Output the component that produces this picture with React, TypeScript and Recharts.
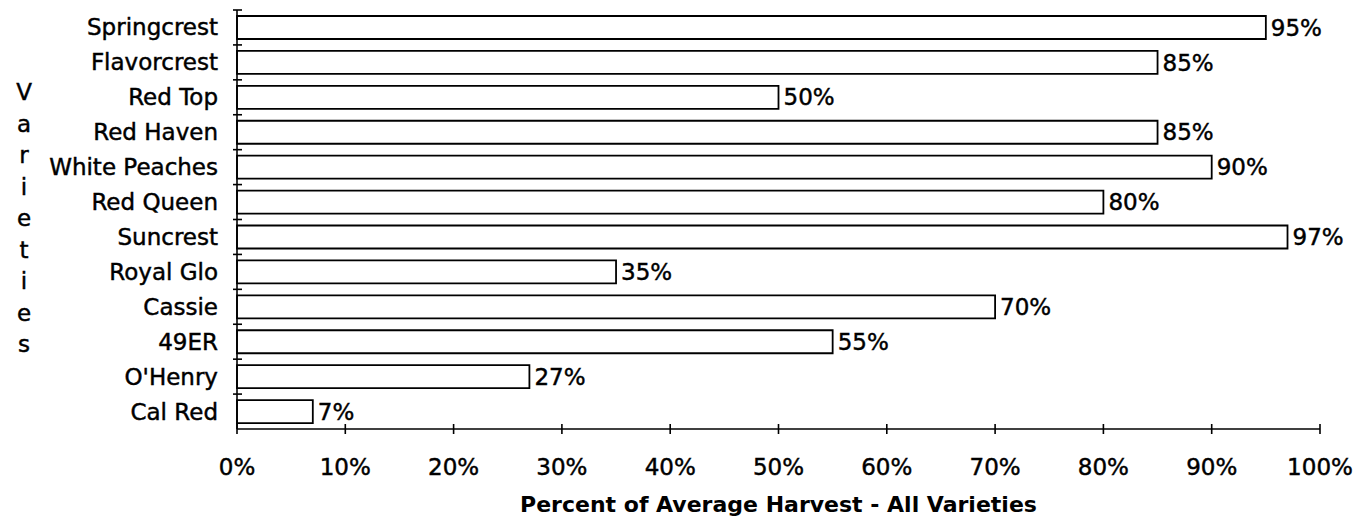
import React from "react";
import { BarChart, Bar, XAxis, YAxis, LabelList } from "recharts";

const varieties = [
  "Springcrest",
  "Flavorcrest",
  "Red Top",
  "Red Haven",
  "White Peaches",
  "Red Queen",
  "Suncrest",
  "Royal Glo",
  "Cassie",
  "49ER",
  "O'Henry",
  "Cal Red",
];
const percents = [95, 85, 50, 85, 90, 80, 97, 35, 70, 55, 27, 7];
const xTicks = [0, 10, 20, 30, 40, 50, 60, 70, 80, 90, 100];
const xTitle = "Percent of Average Harvest - All Varieties";
const yTitle = "Varieties";

const data = varieties.map((name, i) => ({ name, value: percents[i] }));

const W = 1367;
const H = 524;
const TOP = 10;
const BOTTOM = 95;
const LEFT = 237;
const RIGHT = 47;
const BAND = (H - TOP - BOTTOM) / varieties.length;
const FONT = "'DejaVu Sans', sans-serif";
const TXT_STROKE = 0.45;

const YTick = (props: any) => {
  const { x, y, payload } = props;
  return (
    <g>
      <line x1={x - 4} x2={x + 5} y1={y - BAND / 2} y2={y - BAND / 2} stroke="#000" strokeWidth={1.6} />
      <text
        x={218}
        y={y + 8}
        textAnchor="end"
        fontFamily={FONT}
        fontSize={23}
        fill="#000"
        stroke="#000"
        strokeWidth={TXT_STROKE}
      >
        {payload.value}
      </text>
    </g>
  );
};

const XTick = (props: any) => {
  const { x, y, payload } = props;
  return (
    <g>
      <line x1={x} x2={x} y1={y - 5} y2={y + 5} stroke="#000" strokeWidth={1.6} />
      <text
        x={x}
        y={y + 46}
        textAnchor="middle"
        fontFamily={FONT}
        fontSize={23}
        fill="#000"
        stroke="#000"
        strokeWidth={TXT_STROKE}
      >
        {payload.value + "%"}
      </text>
    </g>
  );
};

const XTitle = (props: any) => {
  const vb = props.viewBox || {};
  return (
    <text
      x={vb.x + vb.width / 2}
      y={vb.y + 83}
      textAnchor="middle"
      fontFamily={FONT}
      fontWeight="bold"
      fontSize={22}
      fill="#000"
    >
      {xTitle}
    </text>
  );
};

const YTitle = () => {
  const letters = yTitle.split("");
  return (
    <text
      x={24}
      y={100}
      textAnchor="middle"
      fontFamily={FONT}
      fontSize={23}
      fill="#000"
      stroke="#000"
      strokeWidth={TXT_STROKE}
    >
      {letters.map((ch, i) => (
        <tspan key={i} x={24} dy={i === 0 ? 0 : 31.5}>
          {ch}
        </tspan>
      ))}
    </text>
  );
};

export default function App() {
  return (
    <div style={{ position: "absolute", left: 0, top: 0, width: W, height: H, background: "#fff" }}>
      <BarChart
        width={W}
        height={H}
        data={data}
        layout="vertical"
        margin={{ top: TOP, right: RIGHT, bottom: 0, left: 0 }}
        barCategoryGap={0}
      >
        <XAxis
          type="number"
          domain={[0, 100]}
          ticks={xTicks}
          interval={0}
          height={BOTTOM}
          tickSize={0}
          tickMargin={0}
          tickLine={false}
          axisLine={{ stroke: "#000", strokeWidth: 1.6 }}
          tick={<XTick />}
          label={<XTitle />}
        />
        <YAxis
          type="category"
          dataKey="name"
          width={LEFT}
          interval={0}
          tickSize={0}
          tickMargin={0}
          tickLine={false}
          axisLine={{ stroke: "#000", strokeWidth: 1.6 }}
          tick={<YTick />}
          label={<YTitle />}
        />
        <Bar
          dataKey="value"
          fill="#fff"
          stroke="#000"
          strokeWidth={1.8}
          barSize={23}
          isAnimationActive={false}
        >
          <LabelList
            dataKey="value"
            position="right"
            offset={5}
            formatter={(v: any) => v + "%"}
            style={{ fontFamily: FONT, fontSize: 23, fill: "#000", stroke: "#000", strokeWidth: TXT_STROKE }}
          />
        </Bar>
      </BarChart>
    </div>
  );
}
